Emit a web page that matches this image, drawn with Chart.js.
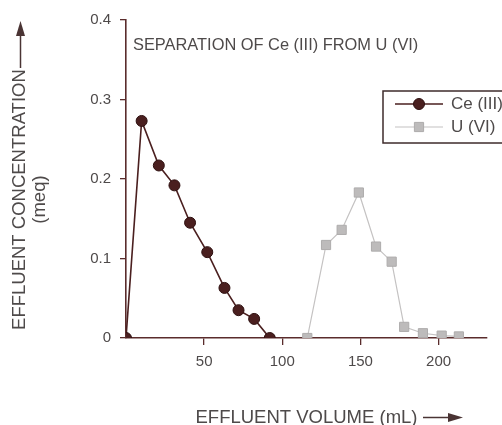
<!DOCTYPE html>
<html>
<head>
<meta charset="utf-8">
<script src="https://cdn.jsdelivr.net/npm/chart.js@4.4.1/dist/chart.umd.min.js"></script>
<style>
  html, body { margin: 0; padding: 0; background: #ffffff; }
</style>
</head>
<body>
<canvas id="myChart" width="502" height="425"></canvas>
<script>
// values
const ceVolume = [0, 10, 21, 31, 41, 52, 63, 72, 82, 92];
const ceConc   = [0, 0.273, 0.217, 0.192, 0.145, 0.108, 0.063, 0.035, 0.024, 0];
const uVolume  = [116, 128, 138, 149, 160, 170, 178, 190, 202, 213];
const uConc    = [0, 0.117, 0.136, 0.183, 0.115, 0.096, 0.014, 0.006, 0.003, 0.002];
const xTicks = [50, 100, 150, 200];
const yTicks = [0, 0.1, 0.2, 0.3, 0.4];

var axisColor = "#5a2c2c";
var textColor = "#4e4a4a";
var ceColor = "#4a1f1f";
var uColor = "#c4c2c2";
var pad = "        "; // room left for the arrow drawn after the y title

function toPoints(xs, ys) {
  return xs.map(function (x, i) { return { x: x, y: ys[i] }; });
}

function arrow(ctx, x1, y1, x2, y2) {
  var a = Math.atan2(y2 - y1, x2 - x1);
  var len = 15, w = 4.5;
  ctx.beginPath();
  ctx.moveTo(x1, y1);
  ctx.lineTo(x2 - len * Math.cos(a), y2 - len * Math.sin(a));
  ctx.stroke();
  ctx.beginPath();
  ctx.moveTo(x2, y2);
  ctx.lineTo(x2 - len * Math.cos(a) - w * Math.sin(a), y2 - len * Math.sin(a) + w * Math.cos(a));
  ctx.lineTo(x2 - len * Math.cos(a) + w * Math.sin(a), y2 - len * Math.sin(a) - w * Math.cos(a));
  ctx.closePath();
  ctx.fill();
}

// chart title inside the plot, axis arrows and the boxed legend
var extras = {
  id: "extras",
  afterDraw: function (chart) {
    var ctx = chart.ctx;
    ctx.save();
    ctx.fillStyle = textColor;
    ctx.font = '16.4px "Liberation Sans"';
    ctx.textBaseline = "middle";
    ctx.textAlign = "left";
    ctx.fillText("SEPARATION OF Ce (III) FROM U (VI)", 133, 45);

    // arrows after the axis titles
    ctx.strokeStyle = "#4a3434";
    ctx.fillStyle = "#4a3434";
    ctx.lineWidth = 1.5;
    arrow(ctx, 20.5, 68, 20.5, 21);
    arrow(ctx, 423, 417.5, 463, 417.5);

    // legend box
    ctx.strokeStyle = "#3e2b2b";
    ctx.lineWidth = 1.5;
    ctx.strokeRect(383, 91, 130, 52);
    chart.data.datasets.forEach(function (ds, i) {
      var y = 104 + i * 23;
      ctx.strokeStyle = ds.borderColor;
      ctx.lineWidth = ds.borderWidth;
      ctx.beginPath();
      ctx.moveTo(395, y);
      ctx.lineTo(443, y);
      ctx.stroke();
      ctx.fillStyle = ds.pointBackgroundColor;
      ctx.strokeStyle = ds.pointBorderColor;
      ctx.lineWidth = ds.pointBorderWidth;
      ctx.beginPath();
      if (ds.pointStyle === "rect") {
        var s = ds.pointRadius * Math.SQRT1_2;
        ctx.rect(419 - s, y - s, 2 * s, 2 * s);
      } else {
        ctx.arc(419, y, ds.pointRadius, 0, Math.PI * 2);
      }
      ctx.fill();
      ctx.stroke();
      ctx.fillStyle = textColor;
      ctx.font = '17px "Liberation Sans"';
      ctx.fillText(ds.label, 451, y);
    });
    ctx.restore();
  }
};

new Chart("myChart", {
  type: "line",
  data: {
    datasets: [{
      label: "Ce (III)",
      data: toPoints(ceVolume, ceConc),
      borderColor: ceColor,
      borderWidth: 1.6,
      pointStyle: "circle",
      pointRadius: 5.5,
      pointBackgroundColor: ceColor,
      pointBorderColor: "#2e1010",
      pointBorderWidth: 1,
      tension: 0
    }, {
      label: "U (VI)",
      data: toPoints(uVolume, uConc),
      borderColor: uColor,
      borderWidth: 1.2,
      pointStyle: "rect",
      pointRadius: 6.5,
      pointBackgroundColor: "#bdbbbb",
      pointBorderColor: "#aeacac",
      pointBorderWidth: 1,
      tension: 0
    }]
  },
  options: {
    responsive: false,
    devicePixelRatio: 1,
    animation: false,
    layout: { padding: { top: 20, right: 15, bottom: 0, left: 0 } },
    plugins: {
      legend: { display: false },
      tooltip: { enabled: false }
    },
    scales: {
      x: {
        type: "linear",
        min: 0,
        max: 231,
        afterBuildTicks: function (scale) {
          scale.ticks = xTicks.map(function (v) { return { value: v }; });
        },
        afterFit: function (scale) { scale.height = 87; },
        ticks: {
          color: textColor,
          font: { family: "Liberation Sans", size: 15 },
          padding: 8,
          maxRotation: 0,
          callback: function (v) { return String(v); }
        },
        grid: {
          drawOnChartArea: false,
          drawTicks: true,
          tickLength: 7,
          color: axisColor,
          lineWidth: 1.3
        },
        border: { color: axisColor, width: 1.6 },
        title: {
          display: true,
          text: "EFFLUENT VOLUME (mL)",
          color: textColor,
          font: { family: "Liberation Sans", size: 18.5, lineHeight: 0.8 },
          padding: { top: 0, bottom: 0 }
        }
      },
      y: {
        type: "linear",
        min: 0,
        max: 0.4,
        afterBuildTicks: function (scale) {
          scale.ticks = yTicks.map(function (v) { return { value: v }; });
        },
        afterFit: function (scale) { scale.width = 126; },
        ticks: {
          color: textColor,
          font: { family: "Liberation Sans", size: 15 },
          padding: 9,
          callback: function (v) { return String(v); }
        },
        grid: {
          drawOnChartArea: false,
          drawTicks: true,
          tickLength: 6,
          color: axisColor,
          lineWidth: 1.3
        },
        border: { color: axisColor, width: 1.6 },
        title: {
          display: true,
          text: ["EFFLUENT CONCENTRATION" + pad, "(meq)" + pad],
          color: textColor,
          font: { family: "Liberation Sans", size: 18.5, lineHeight: 1.08 },
          padding: { top: 10, bottom: 0 }
        }
      }
    }
  },
  plugins: [extras]
});
</script>
</body>
</html>
